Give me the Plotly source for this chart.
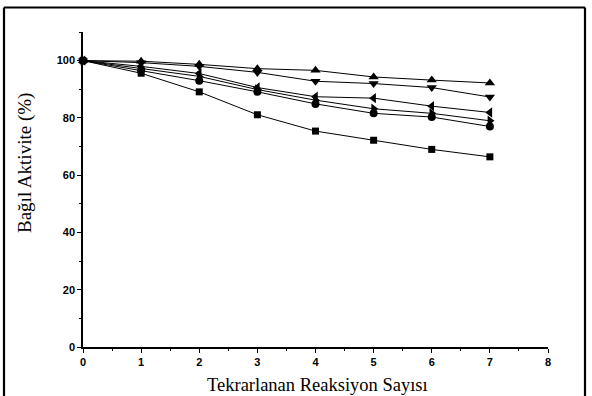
import plotly.graph_objects as go

cycles = [0, 1, 2, 3, 4, 5, 6, 7]
s_up = [100, 99.8, 98.7, 97.2, 96.6, 94.3, 93.2, 92.2]
s_down = [100, 99.3, 98.0, 95.9, 92.8, 92.0, 90.6, 87.3]
s_left = [100, 98.0, 95.5, 90.6, 87.4, 86.9, 84.1, 81.9]
s_right = [100, 97.3, 94.5, 89.9, 86.2, 83.2, 81.6, 79.0]
s_circle = [100, 96.6, 93.0, 89.1, 84.9, 81.6, 80.3, 77.0]
s_square = [100, 95.6, 89.1, 81.1, 75.4, 72.2, 69.0, 66.4]

series = [
    (s_up, "triangle-up", 9),
    (s_down, "triangle-down", 9),
    (s_left, "triangle-left", 9),
    (s_right, "triangle-right", 9),
    (s_circle, "circle", 8),
    (s_square, "square", 7),
]

x_ticks = [0, 1, 2, 3, 4, 5, 6, 7, 8]
y_ticks = [0, 20, 40, 60, 80, 100]

fig = go.Figure()
for vals, sym, sz in series:
    fig.add_trace(go.Scatter(
        x=cycles, y=vals, mode="lines+markers",
        line=dict(color="black", width=1),
        marker=dict(symbol=sym, size=sz, color="black"),
        cliponaxis=False, showlegend=False,
    ))

tickfont = dict(family="Liberation Sans, Arial", size=11, color="black", weight="bold")

fig.update_layout(
    width=592, height=396,
    margin=dict(l=83, r=44, t=32, b=49),
    paper_bgcolor="white", plot_bgcolor="white",
    xaxis=dict(
        range=[0, 8], tickvals=x_ticks, ticks="outside", ticklen=4, tickwidth=1.2,
        showline=True, linecolor="black", linewidth=1.5, showgrid=False, zeroline=False,
        tickfont=tickfont, tickcolor="black",
        minor=dict(dtick=0.5, tick0=0, ticks="outside", ticklen=2.5, tickcolor="black", tickwidth=1, showgrid=False),
    ),
    yaxis=dict(
        range=[0, 110], tickvals=y_ticks, ticks="outside", ticklen=4, tickwidth=1.2,
        showline=True, linecolor="black", linewidth=1.5, showgrid=False, zeroline=False,
        tickfont=tickfont, tickcolor="black",
        minor=dict(dtick=10, tick0=0, ticks="outside", ticklen=2.5, tickcolor="black", tickwidth=1, showgrid=False),
    ),
    annotations=[
        dict(text="Tekrarlanan Reaksiyon Sayısı", xref="paper", yref="paper",
             x=(317 - 83) / 465, y=(347 - 385) / 315, xanchor="center", yanchor="middle",
             showarrow=False, font=dict(family="Liberation Serif, Times New Roman", size=18.5, color="black")),
        dict(text="Bağıl Aktivite (%)", xref="paper", yref="paper",
             x=(25 - 83) / 465, y=(347 - 163) / 315, xanchor="center", yanchor="middle",
             textangle=-90, showarrow=False,
             font=dict(family="Liberation Serif, Times New Roman", size=19, color="black")),
    ],
    shapes=[
        dict(type="line", xref="paper", yref="paper",
             x0=(4 - 83) / 465, x1=(4 - 83) / 465, y0=(347 - 7.5) / 315, y1=(347 - 400) / 315,
             line=dict(color="black", width=2.2)),
        dict(type="line", xref="paper", yref="paper",
             x0=(4 - 83) / 465, x1=(585 - 83) / 465, y0=(347 - 7.5) / 315, y1=(347 - 7.5) / 315,
             line=dict(color="black", width=2.2)),
        dict(type="line", xref="paper", yref="paper",
             x0=(585 - 83) / 465, x1=(585 - 83) / 465, y0=(347 - 7.5) / 315, y1=(347 - 400) / 315,
             line=dict(color="black", width=2.2)),
    ],
)

fig.write_html("out.html")
